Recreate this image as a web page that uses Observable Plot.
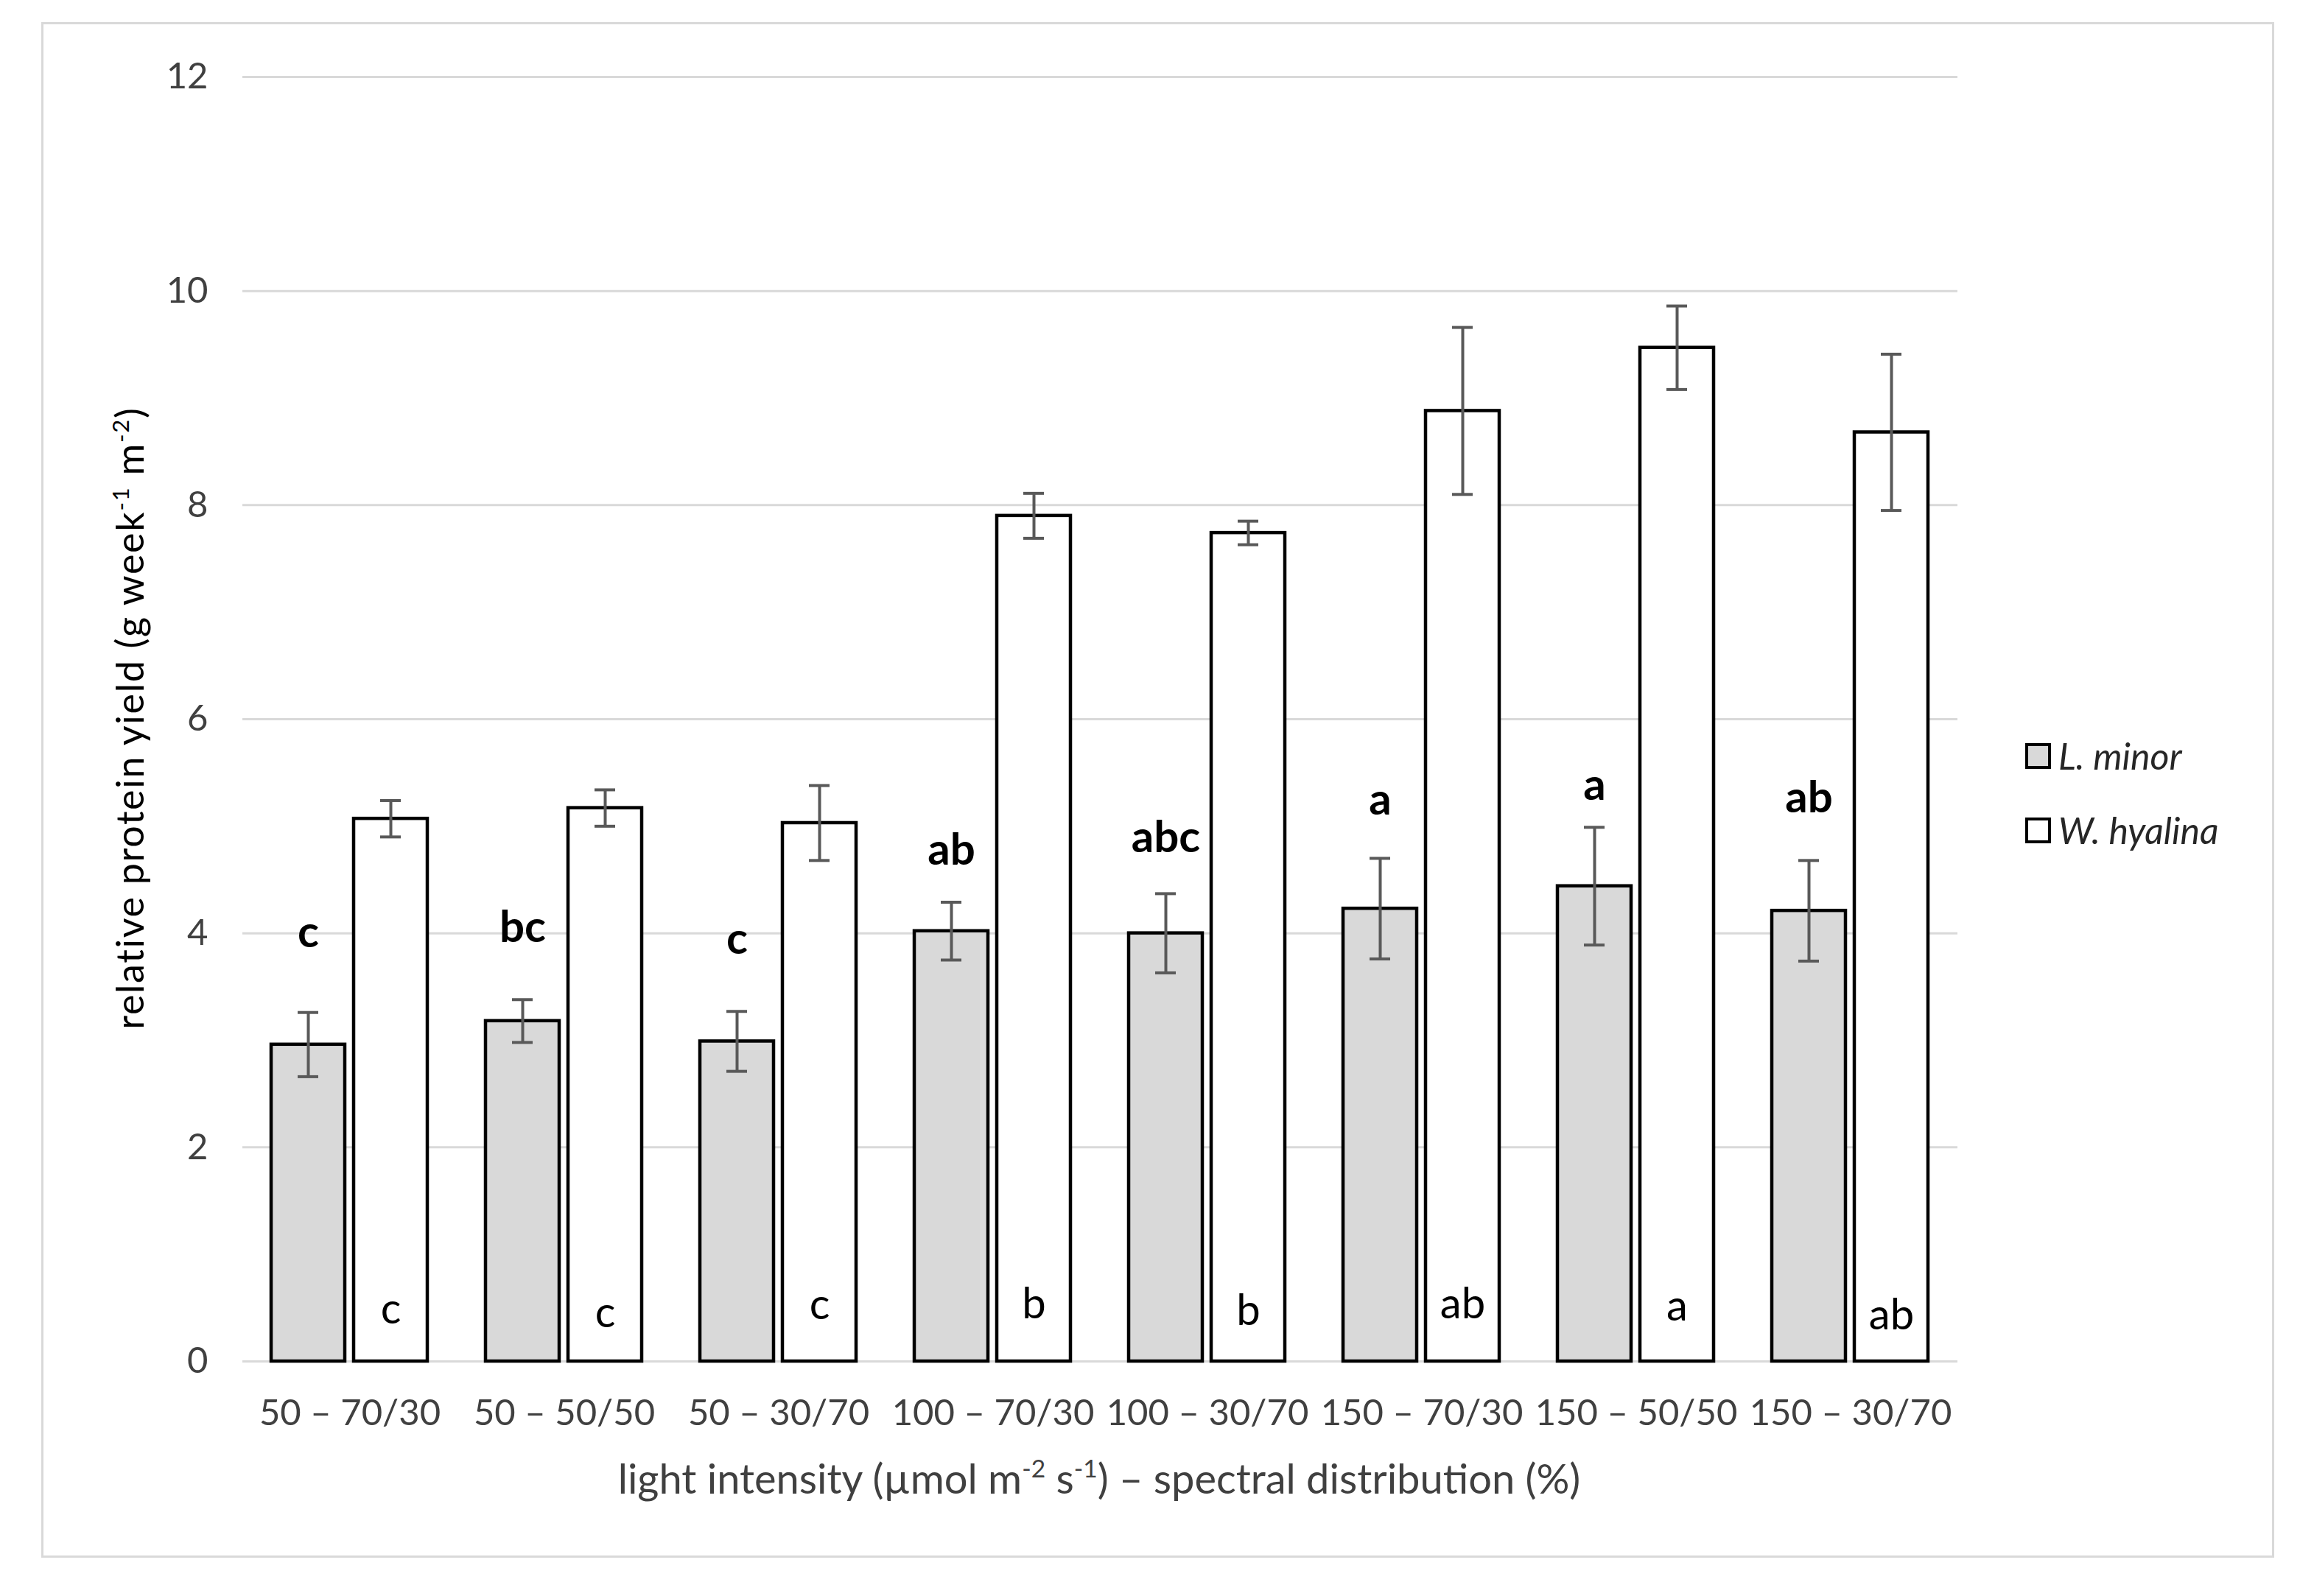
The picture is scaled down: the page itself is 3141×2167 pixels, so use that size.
<!DOCTYPE html>
<html><head><meta charset="utf-8">
<script src="https://cdn.jsdelivr.net/npm/d3@7"></script>
<script src="https://cdn.jsdelivr.net/npm/@observablehq/plot@0.6"></script>
<style>
body{margin:0;background:#fff;}
#page{position:relative;width:3141px;height:2167px;background:#fff;overflow:hidden;font-family:Lato,sans-serif;}
#border{position:absolute;left:56px;top:30px;width:3025px;height:2079px;border:3px solid #d9d9d9;}
#chart{position:absolute;left:0;top:0;}
#ytitle{position:absolute;left:175px;top:975px;transform:translate(-50%,-50%) rotate(-90deg);white-space:nowrap;font-size:52px;letter-spacing:1.7px;color:#000;}
#xtitle{position:absolute;left:1492px;top:2006px;transform:translate(-50%,-50%);white-space:nowrap;font-size:56px;color:#404040;}
sup{font-size:0.6em;vertical-align:0.65em;line-height:0;}
.leg{position:absolute;left:2749px;height:36px;display:flex;align-items:center;white-space:nowrap;}
.sw{width:35px;height:35px;box-sizing:border-box;border:4px solid #000;}
.lt{margin-left:10px;font-style:italic;font-size:50px;color:#262626;}
</style></head>
<body>
<div id="page">
  <div id="border"></div>
  <div id="chart"></div>
  <div id="ytitle">relative protein yield (g week<sup>-1</sup> m<sup>-2</sup>)</div>
  <div id="xtitle">light intensity (µmol m<sup>-2</sup> s<sup>-1</sup>) – spectral distribution (%)</div>
  <div id="legend"></div>
</div>
<script>
const categories = ["50 – 70/30","50 – 50/50","50 – 30/70","100 – 70/30","100 – 30/70","150 – 70/30","150 – 50/50","150 – 30/70"];
const species = ["L. minor","W. hyalina"];
const speciesFill = ["#d9d9d9","#ffffff"];
const lminorMean = [2.96, 3.18, 2.99, 4.02, 4.00, 4.23, 4.44, 4.21];
const lminorSE   = [0.30, 0.20, 0.28, 0.27, 0.37, 0.47, 0.55, 0.47];
const whyalinaMean = [5.07, 5.17, 5.03, 7.90, 7.74, 8.88, 9.47, 8.68];
const whyalinaSE   = [0.17, 0.17, 0.35, 0.21, 0.11, 0.78, 0.39, 0.73];
const lminorLetters = ["c","bc","c","ab","abc","a","a","ab"];
const lminorLetterY = [4.0, 4.05, 3.94, 4.77, 4.89, 5.24, 5.38, 5.26];
const whyalinaLetters = ["c","c","c","b","b","ab","a","ab"];
const whyalinaLetterY = [0.48, 0.45, 0.52, 0.53, 0.47, 0.53, 0.51, 0.43];
const yTicks = [0, 2, 4, 6, 8, 10, 12];

const rows = categories.flatMap((c, i) => [
  {cat: c, sp: species[0], mean: lminorMean[i], se: lminorSE[i]},
  {cat: c, sp: species[1], mean: whyalinaMean[i], se: whyalinaSE[i]}
]);
const topRows = categories.map((c, i) => ({cat: c, sp: species[0], t: lminorLetters[i], y: lminorLetterY[i]}));
const botRows = categories.map((c, i) => ({cat: c, sp: species[1], t: whyalinaLetters[i], y: whyalinaLetterY[i]}));

const chart = Plot.plot({
  width: 2700, height: 2167,
  marginLeft: 327, marginRight: 42, marginTop: 104, marginBottom: 319,
  style: {fontFamily: "Lato, sans-serif", fontSize: "49px", color: "#404040", background: "transparent"},
  fx: {domain: categories, padding: 0, label: null},
  x: {domain: species, paddingInner: 0.107, paddingOuter: 0.35, axis: null},
  y: {domain: [0, 12]},
  color: {domain: species, range: speciesFill},
  marks: [
    Plot.ruleY(yTicks, {stroke: "#d9d9d9", strokeWidth: 3}),
    Plot.axisY(yTicks, {tickSize: 0, tickPadding: 47, label: null, fontSize: 49, tickFormat: d => String(d)}),
    Plot.axisFx({anchor: "bottom", tickSize: 0, tickPadding: 52, label: null, fontSize: 49}),
    Plot.barY(rows, {fx: "cat", x: "sp", y: "mean", fill: "sp", stroke: "#000", strokeWidth: 4.5}),
    Plot.ruleX(rows, {fx: "cat", x: "sp", y1: d => d.mean - d.se, y2: d => d.mean + d.se, stroke: "#595959", strokeWidth: 4}),
    Plot.tickY(rows, {fx: "cat", x: "sp", y: d => d.mean + d.se, stroke: "#595959", strokeWidth: 4, insetLeft: 36, insetRight: 36}),
    Plot.tickY(rows, {fx: "cat", x: "sp", y: d => d.mean - d.se, stroke: "#595959", strokeWidth: 4, insetLeft: 36, insetRight: 36}),
    Plot.text(topRows, {fx: "cat", x: "sp", y: "y", text: "t", fontWeight: "bold", fontSize: 60, fill: "#000"}),
    Plot.text(botRows, {fx: "cat", x: "sp", y: "y", text: "t", fontSize: 58, fill: "#000"})
  ]
});
document.getElementById("chart").appendChild(chart);

const legend = document.getElementById("legend");
const legTops = [1008, 1109];
species.forEach((s, i) => {
  const d = document.createElement("div");
  d.className = "leg";
  d.style.top = legTops[i] + "px";
  const sw = document.createElement("div");
  sw.className = "sw";
  sw.style.background = speciesFill[i];
  const t = document.createElement("span");
  t.className = "lt";
  t.textContent = s;
  d.appendChild(sw); d.appendChild(t);
  legend.appendChild(d);
});
</script>
</body></html>
